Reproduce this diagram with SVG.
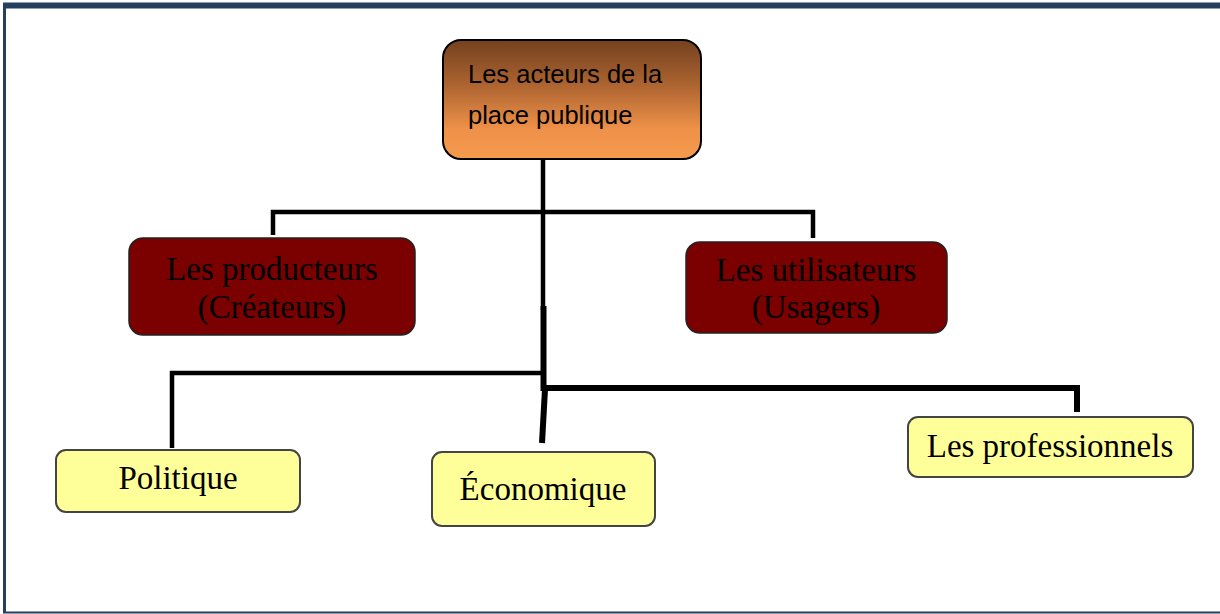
<svg xmlns="http://www.w3.org/2000/svg" width="1220" height="614" viewBox="0 0 1220 614">
<defs>
<linearGradient id="gTop" x1="0" y1="0" x2="0" y2="1">
<stop offset="0" stop-color="#74411f"/>
<stop offset="0.35" stop-color="#a8612f"/>
<stop offset="0.75" stop-color="#ef9149"/>
<stop offset="1" stop-color="#f59b4d"/>
</linearGradient>
<style>
.frame{fill:none;stroke:#243f60}
.top{fill:url(#gTop);stroke:#000;stroke-width:2}
.red{fill:#7b0000;stroke:#222;stroke-width:1.5}
.yel{fill:#ffff99;stroke:#444;stroke-width:2}
.ttop{font-family:"Liberation Sans",Arial,sans-serif;font-size:25.5px;fill:#000}
.tser{font-family:"Liberation Serif","Times New Roman",serif;font-size:33px;fill:#000;text-anchor:middle}
.ln{stroke:#000;fill:none;stroke-linecap:butt}
</style>
</defs>
<rect width="1220" height="614" fill="#fff"/>
<g id="frame">
<line class="frame" x1="3" y1="5.5" x2="1220" y2="5.5" stroke-width="6"/>
<line class="frame" x1="4.5" y1="3" x2="4.5" y2="613" stroke-width="3"/>
<line class="frame" x1="3" y1="612.5" x2="1220" y2="612.5" stroke-width="2"/>
</g>
<g id="connectors">
<line class="ln" x1="543" y1="159" x2="543" y2="310" stroke-width="4.5"/>
<line class="ln" x1="543.5" y1="306" x2="543.5" y2="391" stroke-width="6"/>
<line class="ln" x1="545" y1="389" x2="542" y2="443" stroke-width="6"/>
<polyline class="ln" points="273,235 273,212 813,212 813,238" stroke-width="4.5"/>
<polyline class="ln" points="172,448 172,373 541,373" stroke-width="4.5"/>
<polyline class="ln" points="543,388 1077,388 1077,412" stroke-width="6"/>
</g>
<g id="node-top">
<rect class="top" x="443" y="40" width="258" height="119" rx="18"/>
<text class="ttop" x="468" y="83">Les acteurs de la</text>
<text class="ttop" x="468" y="124">place publique</text>
</g>
<g id="node-producteurs">
<rect class="red" x="129" y="238" width="286" height="97" rx="14"/>
<text class="tser" x="272" y="280">Les producteurs</text>
<text class="tser" x="272" y="318">(Créateurs)</text>
</g>
<g id="node-utilisateurs">
<rect class="red" x="686" y="242" width="261" height="91" rx="14"/>
<text class="tser" x="816" y="281">Les utilisateurs</text>
<text class="tser" x="816" y="318">(Usagers)</text>
</g>
<g id="node-politique">
<rect class="yel" x="56" y="450" width="244" height="62" rx="10"/>
<text class="tser" x="178" y="489">Politique</text>
</g>
<g id="node-economique">
<rect class="yel" x="432" y="452" width="223" height="74" rx="10"/>
<text class="tser" x="543" y="500">Économique</text>
</g>
<g id="node-professionnels">
<rect class="yel" x="908" y="417" width="285" height="60" rx="10"/>
<text class="tser" x="1050" y="457">Les professionnels</text>
</g>
</svg>
